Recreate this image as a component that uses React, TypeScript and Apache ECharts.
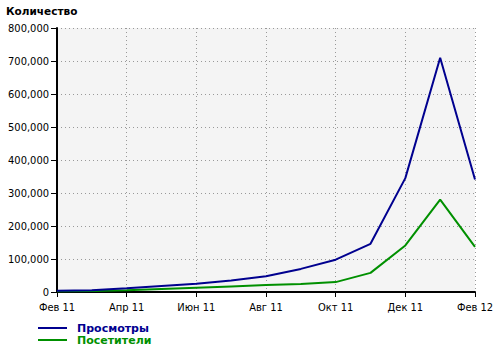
import React, { useEffect, useRef } from "react";
import * as echarts from "echarts";

const categories = ["Фев 11", "Мар 11", "Апр 11", "Май 11", "Июн 11", "Июл 11", "Авг 11", "Сен 11", "Окт 11", "Ноя 11", "Дек 11", "Янв 12", "Фев 12"];
const views = [4000, 5000, 11000, 18000, 25000, 35000, 48000, 70000, 98000, 146000, 345000, 710000, 341000];
const visitors = [2000, 3000, 5000, 9000, 13000, 17000, 21000, 24000, 30000, 58000, 141000, 280000, 137000];
const yTicks = [0, 100000, 200000, 300000, 400000, 500000, 600000, 700000, 800000];

const COND = "'DejaVu Sans Condensed', 'DejaVu Sans', sans-serif";
const SANS = "'DejaVu Sans', sans-serif";
const BLUE = "#00008f";
const GREEN = "#009000";

export default function App() {
  const ref = useRef<HTMLDivElement>(null);
  useEffect(() => {
    const chart = echarts.init(ref.current!, null, { renderer: "svg" });
    chart.setOption({
      animation: false,
      backgroundColor: "#ffffff",
      textStyle: { fontFamily: SANS },
      title: {
        text: "Количество",
        left: 6,
        top: 5,
        padding: 0,
        textStyle: { fontFamily: SANS, fontSize: 10.5, fontWeight: "bold", color: "#000" },
      },
      grid: {
        left: 57,
        right: 25,
        top: 28,
        bottom: 59,
        show: true,
        backgroundColor: "#f4f4f4",
        borderWidth: 0,
      },
      legend: {
        orient: "vertical",
        left: 38,
        top: 322,
        padding: 0,
        icon: "rect",
        itemWidth: 29,
        itemHeight: 2,
        itemGap: 0,
        textStyle: { fontFamily: SANS, fontSize: 11, fontWeight: "bold", lineHeight: 12, padding: [0, 0, 0, 5] },
        data: [
          { name: "Просмотры", textStyle: { color: BLUE } },
          { name: "Посетители", textStyle: { color: GREEN } },
        ],
      },
      xAxis: {
        type: "category",
        data: categories,
        boundaryGap: false,
        axisLine: { lineStyle: { color: "#000", width: 2 } },
        axisTick: { show: true, interval: 1, length: 5, lineStyle: { color: "#000", width: 1 } },
        axisLabel: { interval: 1, color: "#000", fontSize: 11, fontFamily: COND, margin: 10 },
        splitLine: { show: true, interval: 1, lineStyle: { color: "#999", type: [1, 3], width: 1 } },
      },
      yAxis: {
        type: "value",
        min: yTicks[0],
        max: yTicks[yTicks.length - 1],
        interval: 100000,
        axisLine: { show: true, lineStyle: { color: "#000", width: 2 } },
        axisTick: { show: true, length: 6, lineStyle: { color: "#000", width: 1 } },
        axisLabel: {
          color: "#000",
          fontSize: 11,
          fontFamily: COND,
          margin: 8,
          formatter: (v: number) => v.toLocaleString("en-US"),
        },
        splitLine: { show: true, lineStyle: { color: "#999", type: [1, 3], width: 1 } },
      },
      series: [
        {
          name: "Посетители",
          type: "line",
          data: visitors,
          symbol: "none",
          lineStyle: { color: GREEN, width: 2 },
          itemStyle: { color: GREEN },
          z: 2,
        },
        {
          name: "Просмотры",
          type: "line",
          data: views,
          symbol: "none",
          lineStyle: { color: BLUE, width: 2 },
          itemStyle: { color: BLUE },
          z: 3,
        },
      ],
    });
    return () => chart.dispose();
  }, []);
  return <div ref={ref} style={{ position: "absolute", left: 0, top: 0, width: 500, height: 351 }} />;
}
